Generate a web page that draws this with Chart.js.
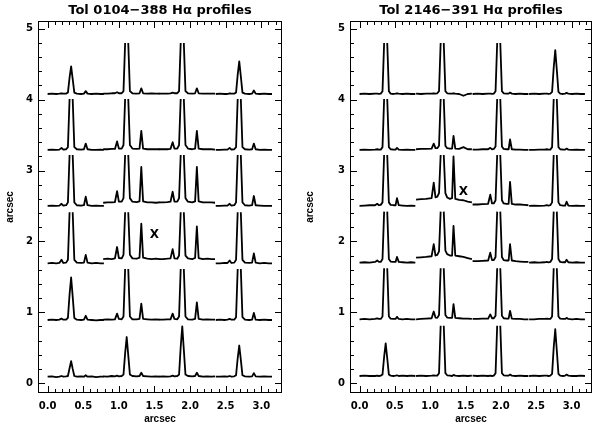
<!DOCTYPE html>
<html lang="en">
<head>
  <meta charset="UTF-8">
  <title>Tol H-alpha profiles</title>
  <script src="https://cdn.jsdelivr.net/npm/chart.js"></script>
  <style>
    body { margin: 0; background: #fff; }
    canvas { position: absolute; top: 0; }
  </style>
</head>
<body>
<canvas id="leftPanel" width="300" height="428" style="left:0px"></canvas>
<canvas id="rightPanel" width="301" height="428" style="left:300px"></canvas>
<script>
  // tick labels
  const xTickValues = [0, 0.5, 1.0, 1.5, 2.0, 2.5, 3.0];
  const yTickValues = [0, 1, 2, 3, 4, 5];

  // sample offsets (arcsec) relative to the H-alpha peak of each column
  const leftOffsets = [-0.33, -0.27, -0.21, -0.165, -0.135, -0.11, -0.07, -0.045, -0.022, 0, 0.022, 0.045, 0.08, 0.14, 0.18, 0.205, 0.23, 0.29, 0.35, 0.41, 0.46];
  const rightOffsets = [-0.37, -0.30, -0.23, -0.15, -0.12, -0.095, -0.07, -0.045, -0.022, 0, 0.022, 0.045, 0.07, 0.11, 0.14, 0.16, 0.185, 0.24, 0.30, 0.36, 0.42];

  // H-alpha peak position of each column
  const leftCenters = [0.33, 1.11, 1.89, 2.69];
  const rightCenters = [0.37, 1.17, 1.97, 2.77];

  // baseline of each row (bottom to top)
  const leftBaselines = [0.09, 0.89, 1.69, 2.50, 3.29, 4.08];
  const rightBaselines = [0.10, 0.90, 1.70, 2.50, 3.29, 4.08];

  // profile heights above the row baseline, null = clipped top
  const leftRow1 = [
    [0.00, 0.005, -0.005, 0.00, 0.01, 0.00, 0.005, 0.01, 0.12, 0.22, 0.11, 0.01, 0.00, 0.005, 0.00, 0.02, 0.00, 0.005, -0.005, 0.00, 0.00],
    [0.005, 0.00, 0.01, 0.005, 0.015, 0.005, 0.01, 0.03, 0.33, 0.56, 0.30, 0.03, 0.01, 0.005, 0.01, 0.055, 0.01, 0.005, 0.00, 0.005, 0.00],
    [0.00, 0.005, 0.00, 0.005, 0.015, 0.005, 0.01, 0.03, 0.42, 0.71, 0.38, 0.03, 0.01, 0.005, 0.01, 0.055, 0.01, 0.00, 0.005, 0.00, 0.005],
    [0.00, 0.00, 0.005, 0.00, 0.01, 0.00, 0.005, 0.02, 0.26, 0.44, 0.24, 0.02, 0.005, 0.00, 0.005, 0.05, 0.005, 0.00, 0.005, 0.00, 0.00]
  ];
  const leftRow2 = [
    [0.00, 0.005, 0.00, 0.005, 0.02, 0.005, 0.005, 0.03, 0.36, 0.60, 0.33, 0.03, 0.005, 0.00, 0.005, 0.06, 0.005, 0.00, -0.005, 0.00, 0.00],
    [0.005, 0.01, 0.005, 0.01, 0.09, 0.015, 0.01, 0.05, 0.72, null, 0.72, 0.05, 0.01, 0.01, 0.015, 0.23, 0.015, 0.01, 0.005, 0.01, 0.005],
    [0.005, 0.005, 0.01, 0.01, 0.09, 0.015, 0.01, 0.05, 0.72, null, 0.72, 0.05, 0.01, 0.005, 0.015, 0.25, 0.015, 0.005, 0.01, 0.005, 0.005],
    [0.00, 0.005, 0.00, 0.005, 0.015, 0.005, 0.005, 0.04, 0.72, null, 0.72, 0.04, 0.005, 0.00, 0.005, 0.10, 0.005, 0.00, 0.005, 0.00, 0.00]
  ];
  const leftRow3 = [
    [0.00, 0.005, 0.00, 0.005, 0.05, 0.005, 0.01, 0.05, 0.72, null, 0.72, 0.05, 0.01, 0.005, 0.01, 0.12, 0.01, 0.00, 0.005, 0.00, 0.00],
    [0.06, 0.065, 0.06, 0.07, 0.23, 0.075, 0.07, 0.12, 0.72, null, 0.72, 0.12, 0.07, 0.065, 0.08, 0.56, 0.08, 0.065, 0.06, 0.065, 0.06],
    [0.06, 0.06, 0.065, 0.07, 0.20, 0.07, 0.065, 0.11, 0.72, null, 0.72, 0.11, 0.07, 0.06, 0.075, 0.52, 0.075, 0.06, 0.065, 0.06, 0.06],
    [0.00, 0.00, 0.005, 0.005, 0.04, 0.005, 0.01, 0.05, 0.72, null, 0.72, 0.05, 0.01, 0.005, 0.01, 0.14, 0.01, 0.00, 0.005, 0.00, 0.00]
  ];
  const leftRow4 = [
    [0.00, 0.005, 0.00, 0.005, 0.03, 0.005, 0.01, 0.05, 0.72, null, 0.72, 0.05, 0.01, 0.005, 0.01, 0.13, 0.01, 0.00, 0.005, 0.00, 0.00],
    [0.045, 0.05, 0.05, 0.055, 0.21, 0.06, 0.06, 0.11, 0.72, null, 0.72, 0.11, 0.06, 0.055, 0.065, 0.55, 0.065, 0.05, 0.05, 0.045, 0.05],
    [0.05, 0.05, 0.055, 0.06, 0.20, 0.06, 0.06, 0.11, 0.72, null, 0.72, 0.11, 0.06, 0.05, 0.065, 0.55, 0.065, 0.05, 0.05, 0.05, 0.045],
    [0.00, 0.00, 0.005, 0.005, 0.03, 0.005, 0.01, 0.05, 0.72, null, 0.72, 0.05, 0.01, 0.005, 0.01, 0.14, 0.01, 0.005, 0.00, 0.00, 0.00]
  ];
  const leftRow5 = [
    [0.00, 0.005, 0.00, 0.005, 0.03, 0.005, 0.01, 0.04, 0.72, null, 0.72, 0.04, 0.01, 0.005, 0.01, 0.09, 0.01, 0.00, 0.00, 0.005, 0.00],
    [0.01, 0.01, 0.015, 0.015, 0.12, 0.02, 0.02, 0.07, 0.72, null, 0.72, 0.07, 0.02, 0.015, 0.02, 0.27, 0.02, 0.01, 0.01, 0.01, 0.01],
    [0.01, 0.01, 0.01, 0.015, 0.11, 0.02, 0.02, 0.07, 0.72, null, 0.72, 0.07, 0.02, 0.01, 0.02, 0.27, 0.02, 0.01, 0.01, 0.01, 0.005],
    [0.00, 0.00, 0.005, 0.005, 0.03, 0.005, 0.01, 0.04, 0.72, null, 0.72, 0.04, 0.01, 0.005, 0.01, 0.09, 0.01, 0.00, 0.005, 0.00, 0.00]
  ];
  const leftRow6 = [
    [0.00, 0.005, 0.00, 0.005, 0.01, 0.005, 0.005, 0.02, 0.23, 0.39, 0.21, 0.02, 0.005, 0.00, 0.005, 0.04, 0.005, 0.00, 0.005, 0.00, 0.00],
    [0.005, 0.005, 0.01, 0.01, 0.025, 0.01, 0.01, 0.04, 0.72, null, 0.72, 0.04, 0.01, 0.005, 0.01, 0.08, 0.01, 0.005, 0.01, 0.005, 0.005],
    [0.005, 0.005, 0.005, 0.01, 0.02, 0.01, 0.01, 0.04, 0.72, null, 0.72, 0.04, 0.01, 0.005, 0.01, 0.08, 0.01, 0.005, 0.005, 0.005, 0.005],
    [0.00, 0.005, 0.00, 0.00, 0.01, 0.005, 0.005, 0.02, 0.27, 0.46, 0.25, 0.02, 0.005, 0.00, 0.005, 0.05, 0.005, 0.00, 0.005, 0.00, 0.00]
  ];

  const rightRow1 = [
    [0.00, 0.005, 0.00, 0.00, 0.005, 0.00, 0.005, 0.02, 0.27, 0.46, 0.25, 0.02, 0.005, 0.00, 0.005, 0.01, 0.00, 0.005, 0.00, 0.005, 0.00],
    [0.00, 0.005, 0.00, 0.005, 0.01, 0.005, 0.005, 0.04, 0.71, null, 0.71, 0.04, 0.01, 0.005, 0.00, 0.015, 0.005, 0.00, 0.005, 0.00, 0.005],
    [0.005, 0.00, 0.005, 0.00, 0.005, 0.00, 0.005, 0.04, 0.71, null, 0.71, 0.04, 0.01, 0.005, 0.005, 0.02, 0.005, 0.00, 0.005, 0.00, 0.00],
    [0.00, 0.005, 0.00, 0.005, 0.005, 0.00, 0.005, 0.03, 0.40, 0.66, 0.36, 0.03, 0.005, 0.00, 0.005, 0.02, 0.005, 0.00, 0.00, 0.005, 0.00]
  ];
  const rightRow2 = [
    [0.00, 0.005, 0.00, 0.005, 0.012, 0.005, 0.005, 0.04, 0.72, null, 0.72, 0.04, 0.01, 0.005, 0.005, 0.035, 0.005, 0.00, 0.005, 0.00, 0.00],
    [0.00, 0.005, 0.01, 0.015, 0.11, 0.025, 0.02, 0.06, 0.72, null, 0.72, 0.06, 0.025, 0.02, 0.02, 0.215, 0.02, 0.015, 0.01, 0.01, 0.005],
    [0.005, 0.005, 0.01, 0.01, 0.07, 0.015, 0.015, 0.05, 0.72, null, 0.72, 0.05, 0.015, 0.01, 0.01, 0.12, 0.01, 0.005, 0.005, 0.00, 0.00],
    [0.00, 0.00, 0.005, 0.005, 0.01, 0.005, 0.005, 0.04, 0.72, null, 0.72, 0.04, 0.01, 0.005, 0.005, 0.02, 0.005, 0.00, 0.005, 0.00, 0.00]
  ];
  const rightRow3 = [
    [0.00, 0.005, 0.00, 0.01, 0.03, 0.01, 0.01, 0.05, 0.72, null, 0.72, 0.05, 0.015, 0.01, 0.01, 0.08, 0.01, 0.005, 0.00, 0.005, 0.00],
    [0.07, 0.075, 0.08, 0.09, 0.26, 0.10, 0.11, 0.16, 0.72, null, 0.72, 0.17, 0.12, 0.10, 0.10, 0.52, 0.10, 0.09, 0.08, 0.065, 0.05],
    [0.02, 0.02, 0.025, 0.03, 0.14, 0.035, 0.035, 0.08, 0.72, null, 0.72, 0.08, 0.035, 0.03, 0.03, 0.26, 0.03, 0.02, 0.015, 0.01, 0.01],
    [0.00, 0.005, 0.00, 0.005, 0.01, 0.005, 0.01, 0.05, 0.72, null, 0.72, 0.05, 0.01, 0.005, 0.005, 0.04, 0.005, 0.00, 0.005, 0.00, 0.00]
  ];
  const rightRow4 = [
    [0.00, 0.005, 0.01, 0.01, 0.03, 0.01, 0.015, 0.05, 0.72, null, 0.72, 0.05, 0.015, 0.01, 0.01, 0.11, 0.01, 0.005, 0.00, 0.005, 0.00],
    [0.09, 0.095, 0.10, 0.11, 0.33, 0.12, 0.13, 0.18, 0.72, null, 0.72, 0.18, 0.12, 0.10, 0.11, 0.70, 0.10, 0.085, 0.08, 0.06, 0.05],
    [0.02, 0.02, 0.025, 0.03, 0.16, 0.035, 0.035, 0.08, 0.72, null, 0.72, 0.08, 0.035, 0.03, 0.03, 0.34, 0.03, 0.02, 0.02, 0.015, 0.01],
    [0.00, 0.005, 0.00, 0.005, 0.01, 0.005, 0.01, 0.05, 0.72, null, 0.72, 0.05, 0.01, 0.005, 0.005, 0.06, 0.005, 0.00, 0.005, 0.00, 0.00]
  ];
  const rightRow5 = [
    [0.00, 0.005, 0.00, 0.005, 0.01, 0.005, 0.005, 0.04, 0.72, null, 0.72, 0.04, 0.01, 0.005, 0.005, 0.03, 0.005, 0.00, 0.005, 0.00, 0.00],
    [0.01, 0.015, 0.015, 0.02, 0.09, 0.025, 0.025, 0.06, 0.72, null, 0.72, 0.06, 0.025, 0.02, 0.02, 0.20, 0.02, 0.015, 0.04, 0.01, 0.01],
    [0.005, 0.005, 0.01, 0.01, 0.03, 0.01, 0.015, 0.05, 0.72, null, 0.72, 0.05, 0.015, 0.01, 0.01, 0.15, 0.01, 0.005, 0.005, 0.00, 0.00],
    [0.00, 0.00, 0.005, 0.005, 0.01, 0.005, 0.005, 0.04, 0.72, null, 0.72, 0.04, 0.01, 0.005, 0.005, 0.02, 0.005, 0.00, 0.005, 0.00, 0.00]
  ];
  const rightRow6 = [
    [0.00, 0.005, 0.00, 0.005, 0.005, 0.00, 0.005, 0.04, 0.72, null, 0.72, 0.04, 0.005, 0.00, 0.005, 0.01, 0.005, 0.00, 0.005, 0.00, 0.00],
    [0.005, 0.00, 0.005, 0.005, 0.01, 0.005, 0.01, 0.04, 0.72, null, 0.72, 0.04, 0.01, 0.005, 0.005, 0.01, 0.005, 0.00, -0.025, 0.00, 0.005],
    [0.00, 0.005, 0.00, 0.005, 0.005, 0.00, 0.005, 0.04, 0.72, null, 0.72, 0.04, 0.01, 0.005, 0.005, 0.02, 0.005, 0.00, 0.005, 0.00, 0.00],
    [0.00, 0.005, 0.00, 0.005, 0.005, 0.00, 0.005, 0.03, 0.37, 0.62, 0.34, 0.03, 0.005, 0.00, 0.005, 0.015, 0.005, 0.00, 0.005, 0.00, 0.00]
  ];

  // the "X" annotations
  const leftMarkX = [1.50], leftMarkY = [2.09];
  const rightMarkX = [1.47], rightMarkY = [2.70];

  const labelFont = { family: 'DejaVu Sans', weight: 'bold', size: 10 };

  // box round the plot with inward ticks on all four sides (IDL look)
  const framePlugin = {
    id: 'frame',
    afterDraw(chart) {
      const { ctx, chartArea: a, scales: { x, y } } = chart;
      const marks = chart.options.plugins.frame;
      ctx.save();
      ctx.strokeStyle = '#000';
      ctx.lineWidth = 1;
      ctx.strokeRect(Math.round(a.left) + 0.5, Math.round(a.top) + 0.5, Math.round(a.width) - 1, Math.round(a.height) - 1);
      ctx.beginPath();
      const xTick = (v, len) => {
        const px = Math.round(x.getPixelForValue(v)) + 0.5;
        ctx.moveTo(px, a.bottom); ctx.lineTo(px, a.bottom - len);
        ctx.moveTo(px, a.top); ctx.lineTo(px, a.top + len);
      };
      const yTick = (v, len) => {
        const py = Math.round(y.getPixelForValue(v)) + 0.5;
        ctx.moveTo(a.left, py); ctx.lineTo(a.left + len, py);
        ctx.moveTo(a.right, py); ctx.lineTo(a.right - len, py);
      };
      for (let k = 0; k <= 32; k++) xTick(k / 10, k % 5 === 0 ? 7 : 4);
      for (let k = 0; k <= 25; k++) yTick(k / 5, k % 5 === 0 ? 7 : 4);
      ctx.stroke();

      ctx.fillStyle = '#000';
      ctx.font = 'bold 12px "DejaVu Sans"';
      ctx.textAlign = 'center';
      ctx.textBaseline = 'middle';
      marks.xs.forEach((mx, i) => {
        ctx.fillText('X', x.getPixelForValue(mx), y.getPixelForValue(marks.ys[i]));
      });
      ctx.restore();
    }
  };

  function makePanel(id, title, offsets, centers, baselines, rows, markX, markY, axisWidth, padRight) {
    const datasets = [];
    rows.forEach((row, r) => {
      row.forEach((heights, c) => {
        datasets.push({
          data: offsets.map((dx, i) => ({
            x: centers[c] + dx,
            y: heights[i] === null ? null : baselines[r] + heights[i]
          })),
          borderColor: '#000',
          borderWidth: 1.8,
          borderJoinStyle: 'round',
          pointRadius: 0,
          tension: 0,
          spanGaps: false,
          fill: false
        });
      });
    });

    return new Chart(document.getElementById(id), {
      type: 'line',
      data: { datasets },
      options: {
        responsive: false,
        animation: false,
        layout: { padding: { left: 0, right: padRight, top: 0, bottom: 0 } },
        plugins: {
          legend: { display: false },
          tooltip: { enabled: false },
          title: {
            display: true,
            text: title,
            color: '#000',
            fullSize: false,
            font: { family: 'DejaVu Sans', weight: 'bold', size: 13 },
            padding: { top: 3, bottom: 2.4 }
          },
          frame: { xs: markX, ys: markY }
        },
        scales: {
          x: {
            type: 'linear',
            min: -0.135,
            max: 3.29,
            afterBuildTicks: s => { s.ticks = xTickValues.map(v => ({ value: v })); },
            afterFit: s => { s.height = 35; },
            grid: { display: false, drawTicks: false },
            border: { display: false },
            ticks: {
              color: '#000', font: labelFont, padding: 7,
              maxRotation: 0, autoSkip: false,
              callback: v => v.toFixed(1)
            },
            title: {
              display: true, text: 'arcsec', color: '#000',
              font: { family: 'Liberation Sans', weight: 'bold', size: 10 },
              padding: { top: 0, bottom: 3 }
            }
          },
          y: {
            type: 'linear',
            min: -0.14,
            max: 5.11,
            afterBuildTicks: s => { s.ticks = yTickValues.map(v => ({ value: v })); },
            afterFit: s => { s.width = axisWidth; },
            grid: { display: false, drawTicks: false },
            border: { display: false },
            ticks: {
              color: '#000', font: labelFont, padding: 5,
              callback: v => String(v)
            },
            title: {
              display: true, text: 'arcsec', color: '#000',
              font: { family: 'Liberation Sans', weight: 'bold', size: 10 },
              padding: { top: 4, bottom: 0 }
            }
          }
        }
      },
      plugins: [framePlugin]
    });
  }

  makePanel('leftPanel', 'Tol 0104\u2212388 H\u03b1 profiles', leftOffsets, leftCenters, leftBaselines,
    [leftRow1, leftRow2, leftRow3, leftRow4, leftRow5, leftRow6], leftMarkX, leftMarkY, 38, 18);
  makePanel('rightPanel', 'Tol 2146\u2212391 H\u03b1 profiles', rightOffsets, rightCenters, rightBaselines,
    [rightRow1, rightRow2, rightRow3, rightRow4, rightRow5, rightRow6], rightMarkX, rightMarkY, 50, 9);
</script>
</body>
</html>
